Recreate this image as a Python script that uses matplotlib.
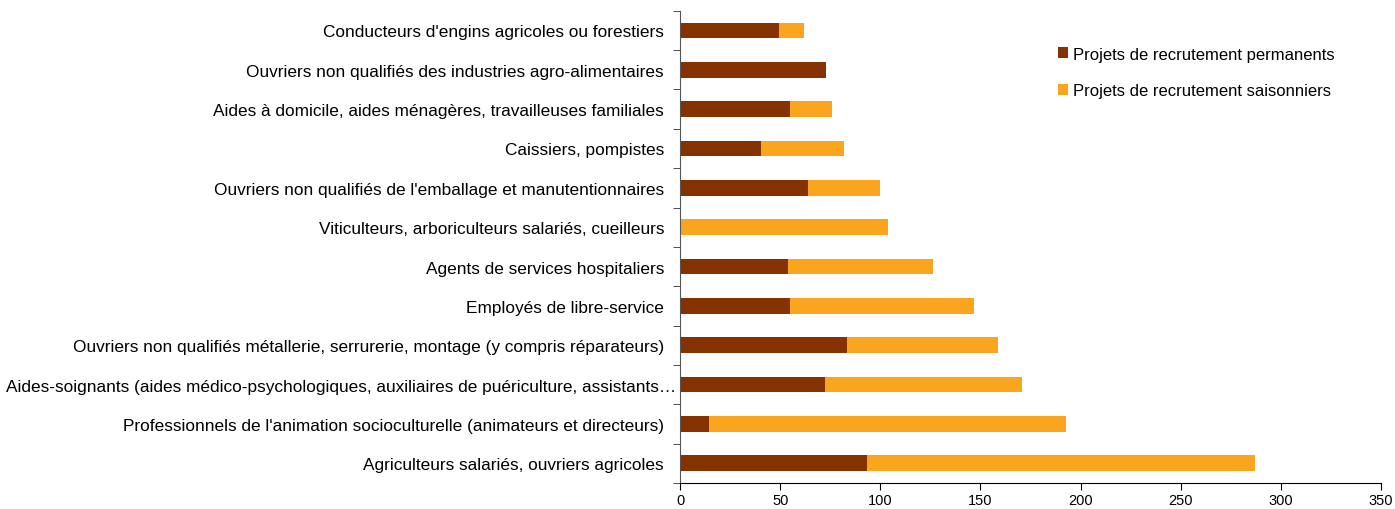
import numpy as np
import matplotlib.pyplot as plt
from matplotlib.ticker import FixedLocator
from matplotlib.transforms import ScaledTranslation

plt.rcParams['font.family'] = ['Liberation Sans', 'DejaVu Sans']

# categories, top to bottom as in the chart
metiers = [
    "Conducteurs d'engins agricoles ou forestiers",
    "Ouvriers non qualifiés des industries agro-alimentaires",
    "Aides à domicile, aides ménagères, travailleuses familiales",
    "Caissiers, pompistes",
    "Ouvriers non qualifiés de l'emballage et manutentionnaires",
    "Viticulteurs, arboriculteurs salariés, cueilleurs",
    "Agents de services hospitaliers",
    "Employés de libre-service",
    "Ouvriers non qualifiés métallerie, serrurerie, montage (y compris réparateurs)",
    "Aides-soignants (aides médico-psychologiques, auxiliaires de puériculture, assistants…",
    "Professionnels de l'animation socioculturelle (animateurs et directeurs)",
    "Agriculteurs salariés, ouvriers agricoles",
]
permanents = [49.5, 72.7, 55, 40.5, 64, 0, 54, 55, 83.4, 72.3, 14.4, 93.4]
saisonniers = [12.2, 0, 21, 41.5, 36, 104, 72.5, 92, 75.1, 98.4, 178.1, 193.6]

col_perm = '#843300'
col_sais = '#F9A61E'

fig = plt.figure(figsize=(13.95, 5.10), dpi=100)
ax = fig.add_axes([0.4875, 0.051, 0.5025, 0.926])

y = np.arange(len(metiers))[::-1]
ax.barh(y, permanents, height=0.4, color=col_perm, label='Projets de recrutement permanents')
ax.barh(y, saisonniers, left=permanents, height=0.4, color=col_sais,
        label='Projets de recrutement saisonniers')

ax.set_xlim(0, 350)
ax.set_ylim(-0.5, len(metiers) - 0.5)
ax.set_xticks(np.arange(0, 351, 50))
ax.set_yticks(y)
ax.set_yticklabels(metiers, fontsize=12.4)
ax.yaxis.set_minor_locator(FixedLocator(np.arange(-0.5, len(metiers), 1)))
ax.tick_params(axis='y', which='major', length=0, pad=11.5)
ax.tick_params(axis='y', which='minor', length=5, direction='out', color='#333333')
ax.tick_params(axis='x', length=5, direction='out', labelsize=10.5, pad=2)

# the truncated long label sits closer to the axis, like in the source chart
long_lbl = ax.get_yticklabels()[9]
long_lbl.set_transform(long_lbl.get_transform() + ScaledTranslation(0.12, 0, fig.dpi_scale_trans))

for s in ['top', 'right']:
    ax.spines[s].set_visible(False)
ax.spines['left'].set_color('#555555')
ax.spines['bottom'].set_color('#000000')

ax.legend(loc='upper left', bbox_to_anchor=(0.748, 0.936), bbox_transform=fig.transFigure,
          frameon=False, fontsize=12, handlelength=0.55, handleheight=0.6,
          handletextpad=0.3, labelspacing=1.3)

fig.savefig('out.png', dpi=100)
